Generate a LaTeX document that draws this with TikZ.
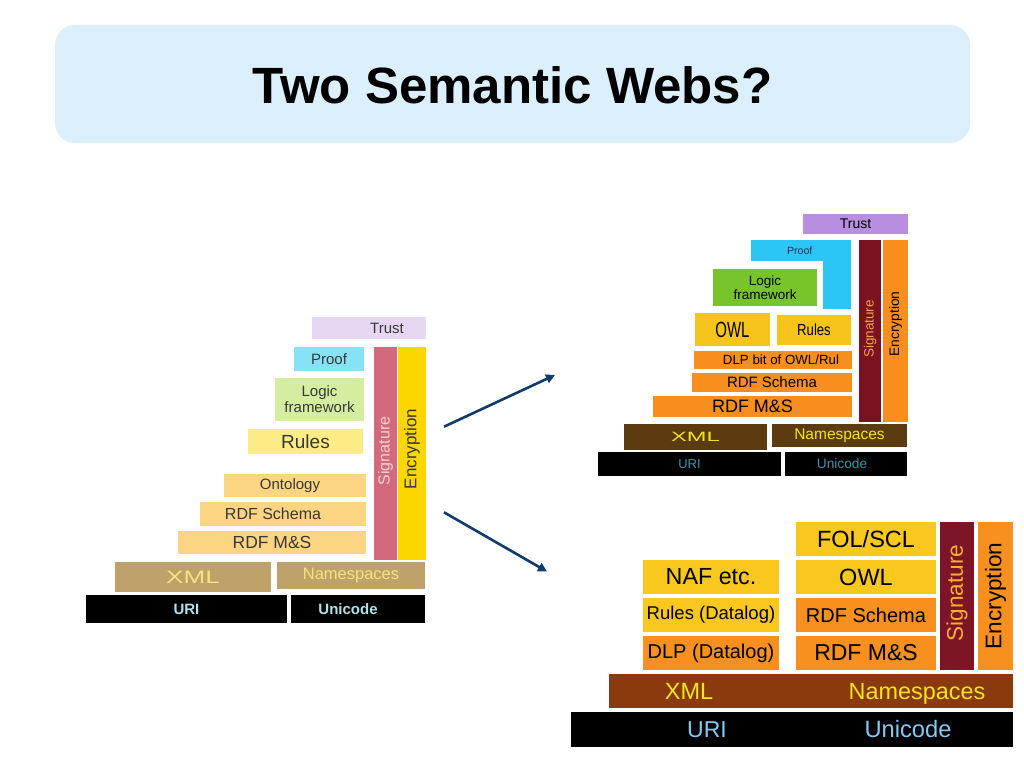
\documentclass[tikz,border=0pt]{standalone}
\usepackage{fontspec}
\setmainfont{Liberation Sans}
\usetikzlibrary{arrows.meta}
% left
\definecolor{lTrust}{HTML}{E6D8F2}
\definecolor{lProof}{HTML}{86E3F7}
\definecolor{lLogic}{HTML}{D5EDA0}
\definecolor{lRules}{HTML}{FBEC85}
\definecolor{lOnt}{HTML}{FCD582}
\definecolor{lSig}{HTML}{D2697C}
\definecolor{lSigTxt}{HTML}{F8D0D0}
\definecolor{lEnc}{HTML}{FDD600}
\definecolor{lXML}{HTML}{BFA26A}
\definecolor{lXMLtxt}{HTML}{F3E47C}
\definecolor{lURItxt}{HTML}{AEE3EA}
\definecolor{lTxt}{HTML}{383838}
% right top
\definecolor{rTrust}{HTML}{B88EE0}
\definecolor{rProof}{HTML}{2CC6F4}
\definecolor{rLogic}{HTML}{77C52A}
\definecolor{rGold}{HTML}{F6C41A}
\definecolor{rOrange}{HTML}{F78E1E}
\definecolor{rSig}{HTML}{7B1220}
\definecolor{rSigTxt}{HTML}{F0A548}
\definecolor{rBrown}{HTML}{5C3B11}
\definecolor{rYel}{HTML}{F2E41E}
\definecolor{rURItxt}{HTML}{3C93AA}
\definecolor{rProofTxt}{HTML}{1A2A5A}
% bottom
\definecolor{bGold}{HTML}{F8C81E}
\definecolor{bOrange}{HTML}{F7901E}
\definecolor{bSig}{HTML}{7C1626}
\definecolor{bSigTxt}{HTML}{F6B030}
\definecolor{bBrown}{HTML}{8A3A0C}
\definecolor{bYel}{HTML}{F6E41C}
\definecolor{bURItxt}{HTML}{86C9F2}
% misc
\definecolor{titleBg}{HTML}{DCEFFC}
\definecolor{arrowCol}{HTML}{103B6B}

\newcommand\fsz[1]{\fontsize{#1}{#1}\selectfont}
\newcommand\bx[7]{\node[box,#6,minimum width={(#4-#2)*1pt},minimum height={(#5-#3)*1pt}] (#1) at ({(#2+#4)/2},{(#3+#5)/2}) {#7};}
\newcommand\vbx[7]{\node[box,#6,rotate=90,minimum width={(#5-#3)*1pt},minimum height={(#4-#2)*1pt}] (#1) at ({(#2+#4)/2},{(#3+#5)/2}) {#7};}

\tikzset{
  box/.style={rectangle,inner sep=0pt,outer sep=0pt,draw=none,align=center},
  ltxt/.style={text=lTxt},
  bartxt/.style={inner sep=0pt,anchor=base},
  conn/.style={draw=arrowCol,line width=2.6pt,-{Triangle[length=9pt,width=9pt]}},
}

\begin{document}
\begin{tikzpicture}[x=1pt,y=-1pt]
\useasboundingbox (0,0) rectangle (1024,768);
\fill[white] (0,0) rectangle (1024,768);

% title
\node[rectangle,rounded corners=20pt,fill=titleBg,minimum width=915pt,minimum height=118pt,inner sep=0pt] (title) at (512.5,84) {};
\node[font=\fsz{51}\bfseries] (titletext) at (512.5,85) {Two Semantic Webs?};

% ===== left stack =====
\bx{lTrust}{312}{317}{426}{339}{fill=lTrust,ltxt,font=\fsz{15}}{\hspace*{36pt}Trust}
\bx{lProof}{294}{347}{364}{371}{fill=lProof,ltxt,font=\fsz{15}}{Proof}
\bx{lLogic}{275}{378}{364}{421}{fill=lLogic,ltxt,font=\fsz{15}}{Logic\\[1pt]framework}
\bx{lRules}{248}{429}{363}{454}{fill=lRules,ltxt,font=\fsz{19}}{Rules}
\bx{lOnt}{224}{474}{366}{497}{fill=lOnt,ltxt,font=\fsz{15}}{Ontology\hspace*{10pt}}
\bx{lRDFS}{200}{502}{366}{526}{fill=lOnt,ltxt,font=\fsz{16}}{RDF Schema\hspace*{20pt}}
\bx{lRDF}{178}{531}{366}{554}{fill=lOnt,ltxt,font=\fsz{17.5}}{RDF M\&S}
\vbx{lSig}{374}{347}{397}{560}{fill=lSig,text=lSigTxt,font=\fsz{16}}{\hspace*{5pt}Signature}
\vbx{lEnc}{398}{347}{426}{560}{fill=lEnc,ltxt,font=\fsz{17}}{\hspace*{9pt}Encryption}
\bx{lXML}{115}{562}{271}{592}{fill=lXML,text=lXMLtxt}{\fsz{18}\scalebox{1.45}[1]{XML}}
\bx{lNS}{277}{562}{425}{589}{fill=lXML,text=lXMLtxt,font=\fsz{16.5}}{Namespaces}
\bx{lURI}{86}{595}{287}{623}{fill=black,text=lURItxt,font=\fsz{15}\bfseries}{URI}
\bx{lUni}{291}{595}{425}{623}{fill=black,text=lURItxt,font=\fsz{15}\bfseries}{\hspace*{-20pt}Unicode}

% ===== right top stack =====
\bx{rTrust}{803}{214}{908}{234}{fill=rTrust,font=\fsz{14}}{Trust}
\fill[rProof] (823,240) rectangle (850.5,309);
\bx{rProof}{751}{240}{850.5}{261}{fill=rProof,text=rProofTxt,font=\fsz{10.5}}{Proof\hspace*{2pt}}
\bx{rLogic}{713}{269}{817}{306}{fill=rLogic,font=\fsz{13.5}}{Logic\\framework}
\bx{rOWL}{695}{313}{770}{346}{fill=rGold}{\fsz{22}\scalebox{0.68}[1]{OWL}}
\bx{rRules}{777}{315}{851}{345}{fill=rGold}{\fsz{16}\scalebox{0.82}[1]{Rules}}
\bx{rDLP}{694}{351}{852}{369}{fill=rOrange,font=\fsz{13.3}}{\hspace*{16pt}DLP bit of OWL/Rul}
\bx{rRDFS}{692}{373}{852}{392}{fill=rOrange,font=\fsz{15}}{RDF Schema}
\bx{rRDF}{653}{396}{852}{417}{fill=rOrange,font=\fsz{18}}{RDF M\&S}
\vbx{rSig}{859}{240}{881}{422}{fill=rSig,text=rSigTxt,font=\fsz{13.5}}{\hspace*{4pt}Signature}
\vbx{rEnc}{883}{240}{908}{422}{fill=rOrange,font=\fsz{13.8}}{\hspace*{14pt}Encryption}
\bx{rXML}{624}{424}{767}{450}{fill=rBrown,text=rYel}{\fsz{13.5}\scalebox{1.75}[1]{XML}}
\bx{rNS}{772}{424}{907}{447}{fill=rBrown,text=rYel,font=\fsz{15.5}}{Namespaces}
\bx{rURI}{598}{452}{781}{476}{fill=black,text=rURItxt,font=\fsz{13}}{URI}
\bx{rUni}{785}{452}{907}{476}{fill=black,text=rURItxt,font=\fsz{13.7}}{\hspace*{-8pt}Unicode}

% ===== bottom right stack =====
\bx{bFOL}{796}{522}{936}{556}{fill=bGold,font=\fsz{23.5}}{FOL/SCL}
\bx{bOWL}{796}{560}{936}{594}{fill=bGold,font=\fsz{23.5}}{OWL}
\bx{bRDFS}{796}{598}{936}{632}{fill=bOrange,font=\fsz{20}}{RDF Schema}
\bx{bRDF}{796}{636}{936}{670}{fill=bOrange,font=\fsz{23}}{RDF M\&S}
\bx{bNAF}{643}{560}{779}{594}{fill=bGold,font=\fsz{23.3}}{NAF etc.}
\bx{bRules}{643}{598}{779}{632}{fill=bGold,font=\fsz{18.5}}{Rules (Datalog)}
\bx{bDLP}{643}{636}{779}{670}{fill=bOrange,font=\fsz{20}}{DLP (Datalog)}
\vbx{bSig}{940}{522}{974}{670}{fill=bSig,text=bSigTxt,font=\fsz{22.6}}{\hspace*{6pt}Signature}
\vbx{bEnc}{978}{522}{1013}{670}{fill=bOrange,font=\fsz{22.6}}{Encryption}
\bx{bXMLbar}{609}{674}{1013}{708}{fill=bBrown}{}
\node[bartxt,text=bYel,font=\fsz{23.5}] (bXML) at (689,699) {XML};
\node[bartxt,text=bYel,font=\fsz{23.4}] (bNS) at (917,699) {Namespaces};
\bx{bURIbar}{571}{712}{1013}{747}{fill=black}{}
\node[bartxt,text=bURItxt,font=\fsz{23}] (bURI) at (707,737) {URI};
\node[bartxt,text=bURItxt,font=\fsz{23.7}] (bUni) at (908,737) {Unicode};

% ===== arrows =====
\coordinate (a1s) at (444,426.7);
\coordinate (a1e) at (555,375);
\coordinate (a2s) at (444,512.3);
\coordinate (a2e) at (547,571.5);
\draw[conn] (a1s) -- (a1e);
\draw[conn] (a2s) -- (a2e);
\end{tikzpicture}
\end{document}
